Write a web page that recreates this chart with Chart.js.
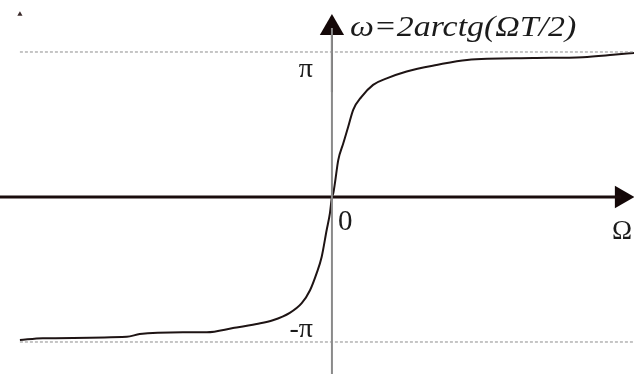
<!DOCTYPE html>
<html>
<head>
<meta charset="utf-8">
<script src="https://cdn.jsdelivr.net/npm/chart.js@4.4.1/dist/chart.umd.min.js"></script>
<style>
  body { margin: 0; background: #fff; }
  #wrap { width: 634px; height: 374px; position: relative; }
</style>
</head>
<body>
<div id="wrap"><canvas id="myChart"></canvas></div>
<script>
// Ω (horizontal) and ω = 2arctg(ΩT/2) along the curve
const omegaIn = [-9.40, -8.71, -6.18, -5.79, -4.49, -3.77, -2.98, -2.27, -1.78, -1.27, -0.91, -0.66, -0.46, -0.31, -0.16, -0.06,
                 0, 0.04, 0.09, 0.19, 0.34, 0.49, 0.64, 0.89, 1.24, 1.65, 2.25, 3.15, 4.07, 6.06, 7.56, 8.47, 9.10];
const omegaOut = [-3.10, -3.06, -3.03, -2.97, -2.93, -2.93, -2.84, -2.75, -2.67, -2.51, -2.30, -2.02, -1.65, -1.30, -0.72, -0.35,
                  0, 0.08, 0.30, 0.80, 1.16, 1.52, 1.89, 2.17, 2.43, 2.57, 2.72, 2.86, 2.97, 3.01, 3.03, 3.08, 3.12];

// asymptotes ±π and the tick labels on the ω axis
const tickValues = [Math.PI, 0, -Math.PI];
const tickLabels = ['π', '0', '-π'];
const formula = 'ω=2arctg(ΩT/2)';
const xName = 'Ω';

const xMin = -10, xMax = 9.1;
const yMin = -3.835, yMax = 4.268;
const wAxisTop = 3.66;   // centre of the arrow head on the ω axis
const omegaAxisEnd = 8.72;

const curve = omegaIn.map((x, i) => ({ x: x, y: omegaOut[i] }));

// texts drawn next to the axes
const labelsPlugin = {
    id: 'labels',
    afterDatasetsDraw(chart) {
        const ctx = chart.ctx;
        const sx = chart.scales.x, sy = chart.scales.y;
        const x0 = sx.getPixelForValue(0);
        const y0 = sy.getPixelForValue(0);
        ctx.save();
        ctx.fillStyle = '#1b1b1b';
        ctx.textBaseline = 'middle';

        // formula, a little wider than the plain font
        ctx.save();
        ctx.font = 'italic 30px "Liberation Serif"';
        ctx.textAlign = 'left';
        ctx.translate(x0 + 18, sy.getPixelForValue(wAxisTop));
        ctx.scale(1.13, 1);
        ctx.fillText(formula, 0, 0);
        ctx.restore();

        ctx.font = '28px "Liberation Serif"';
        ctx.textAlign = 'right';
        ctx.fillText(tickLabels[0], x0 - 19, sy.getPixelForValue(tickValues[0]) + 18);
        ctx.fillText(tickLabels[2], x0 - 19, sy.getPixelForValue(tickValues[2]) - 12);
        ctx.font = '29px "Liberation Serif"';
        ctx.textAlign = 'left';
        ctx.fillText(tickLabels[1], x0 + 6, y0 + 25);

        ctx.font = '27px "Liberation Serif"';
        ctx.textAlign = 'left';
        ctx.fillText(xName, chart.width - 22, y0 + 35);
        ctx.restore();
    }
};

const ctxChart = document.getElementById('myChart');
new Chart(ctxChart, {
    type: 'scatter',
    data: {
        datasets: [
            {   // ω = π
                data: [{ x: -9.4, y: tickValues[0] }, { x: xMax, y: tickValues[0] }],
                showLine: true, borderColor: '#8c8c8c', borderWidth: 1, borderDash: [3, 2], pointRadius: 0
            },
            {   // ω = -π
                data: [{ x: -9.4, y: tickValues[2] }, { x: xMax, y: tickValues[2] }],
                showLine: true, borderColor: '#8c8c8c', borderWidth: 1, borderDash: [3, 2], pointRadius: 0
            },
            {   // ω axis
                data: [{ x: 0, y: yMin }, { x: 0, y: wAxisTop }],
                showLine: true, borderColor: '#8a8a8a', borderWidth: 2, pointRadius: 0
            },
            {
                data: [{ x: 0, y: 2.27 }, { x: 0, y: wAxisTop }],
                showLine: true, borderColor: '#1a0c0c', borderWidth: 2, pointRadius: 0
            },
            {   // Ω axis
                data: [{ x: xMin, y: 0 }, { x: omegaAxisEnd, y: 0 }],
                showLine: true, borderColor: '#1a0c0c', borderWidth: 3, pointRadius: 0
            },
            {
                data: curve,
                showLine: true, borderColor: '#1e1414', borderWidth: 2, pointRadius: 0,
                cubicInterpolationMode: 'monotone'
            },
            {   // arrow heads
                data: [{ x: 0, y: wAxisTop }],
                pointStyle: 'triangle', pointRadius: 14, rotation: 0,
                backgroundColor: '#140808', borderWidth: 0
            },
            {
                data: [{ x: omegaAxisEnd, y: 0 }],
                pointStyle: 'triangle', pointRadius: 13, rotation: 90,
                backgroundColor: '#140808', borderWidth: 0
            },
            {
                data: [{ x: -9.4, y: 3.96 }],
                pointStyle: 'triangle', pointRadius: 3, rotation: 0,
                backgroundColor: '#3a2a2a', borderWidth: 0
            }
        ]
    },
    options: {
        responsive: true,
        maintainAspectRatio: false,
        animation: false,
        layout: { padding: 0, autoPadding: false },
        clip: false,
        plugins: { legend: { display: false }, tooltip: { enabled: false } },
        scales: {
            x: { type: 'linear', min: xMin, max: xMax, display: false },
            y: { type: 'linear', min: yMin, max: yMax, display: false }
        }
    },
    plugins: [labelsPlugin]
});
</script>
</body>
</html>
